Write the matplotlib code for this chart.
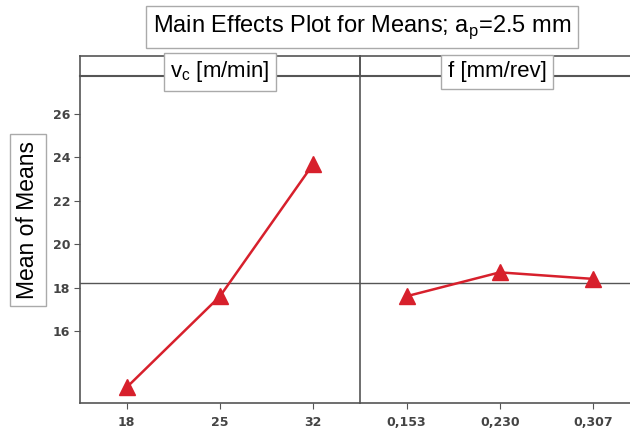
import matplotlib.pyplot as plt
import numpy as np

# data
vc_levels = ['18', '25', '32']
vc_means = [13.4, 17.6, 23.7]
f_levels = ['0,153', '0,230', '0,307']
f_means = [17.6, 18.7, 18.4]
grand_mean = 18.23

red = '#d7202c'
frame = '#555555'

plt.rcParams['font.family'] = ['Liberation Sans', 'DejaVu Sans']

W, H = 630, 428
fig = plt.figure(figsize=(W / 100, H / 100), dpi=100)

def box(x0, y0, x1, y1):
    # pixel box -> figure fraction [left, bottom, width, height]
    return [x0 / W, 1 - y1 / H, (x1 - x0) / W, (y1 - y0) / H]

ax1 = fig.add_axes(box(80, 76, 360, 403))
ax2 = fig.add_axes(box(360, 76, 632, 403))

for ax, levels, means in [(ax1, vc_levels, vc_means), (ax2, f_levels, f_means)]:
    x = np.arange(len(levels))
    ax.plot(x, means, color=red, lw=1.8, marker='^', markersize=12,
            markeredgecolor=red, markerfacecolor=red, zorder=3)
    ax.axhline(grand_mean, color=frame, lw=1, zorder=2)
    ax.set_xticks(x)
    ax.set_xticklabels(levels, fontfamily='DejaVu Sans', fontweight='bold',
                       fontsize=9, color='#444444')
    ax.set_ylim(12.68, 27.75)
    for s in ax.spines.values():
        s.set_color(frame)
        s.set_linewidth(1.2)
    ax.spines['top'].set_visible(False)
    ax.spines['right'].set_visible(False)
    ax.tick_params(axis='x', direction='out', length=4, color=frame, pad=5)

ax1.set_xlim(-0.5, 2.5)
ax2.set_xlim(-0.5, 2.42)
ax1.set_yticks([16, 18, 20, 22, 24, 26])
ax1.set_yticklabels(['16', '18', '20', '22', '24', '26'], fontfamily='DejaVu Sans',
                    fontweight='bold', fontsize=9, color='#444444')
ax1.tick_params(axis='y', direction='out', length=4, color=frame, pad=3)
ax2.set_yticks([])

# strip at the top of the panels
for x0, x1 in [(80, 360), (360, 632)]:
    sa = fig.add_axes(box(x0, 56, x1, 76))
    sa.set_xticks([])
    sa.set_yticks([])
    sa.patch.set_alpha(0)
    for s in sa.spines.values():
        s.set_color(frame)
        s.set_linewidth(1.2)
    sa.spines['right'].set_visible(x1 < 600)
    sa.spines['bottom'].set_linewidth(1.5)

label_box = dict(boxstyle='square,pad=0.3', facecolor='white', edgecolor='#aaaaaa', lw=1)
fig.text(220 / W, 1 - 72 / H, 'v$_\\mathregular{c}$ [m/min]', ha='center', va='center',
         fontsize=16, bbox=label_box)
fig.text(497 / W, 1 - 72 / H, 'f [mm/rev]', ha='center', va='center',
         fontsize=16, bbox=label_box)

title_box = dict(boxstyle='square,pad=0.3', facecolor='white', edgecolor='#aaaaaa', lw=1)
fig.text(362 / W, 1 - 27 / H, 'Main Effects Plot for Means; a$_\\mathregular{p}$=2.5 mm',
         ha='center', va='center', fontsize=17, bbox=title_box)

fig.text(28 / W, 1 - 220 / H, 'Mean of Means', rotation=90, ha='center', va='center',
         fontsize=16.5, bbox=dict(boxstyle='square,pad=0.3', facecolor='white',
                                  edgecolor='#aaaaaa', lw=1))

fig.savefig('out.png', dpi=100)
